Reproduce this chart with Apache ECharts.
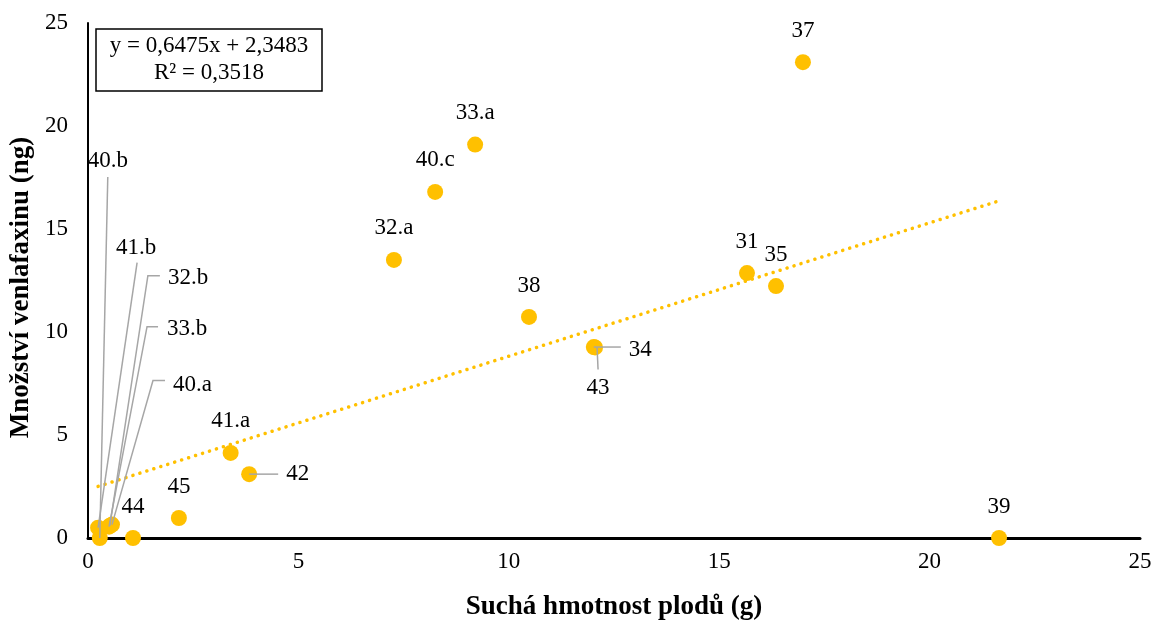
<!DOCTYPE html>
<html>
<head>
<meta charset="utf-8">
<script src="https://cdn.jsdelivr.net/npm/echarts@6/dist/echarts.min.js"></script>
<style>
  html, body { margin: 0; padding: 0; background: #fff; }
  #chart { width: 1154px; height: 620px; }
</style>
</head>
<body>
<div id="chart"></div>
<script>
// vzorky (popisky bodů)
const names = ['37', '33.a', '40.c', '32.a', '38', '31', '35', '34', '43', '41.a', '42', '45', '39', '44', '40.b', '41.b', '32.b', '33.b', '40.a'];
// suchá hmotnost plodů (g)
const xValues = [16.99, 9.2, 8.25, 7.27, 10.48, 15.66, 16.35, 12.02, 12.05, 3.39, 3.83, 2.16, 21.65, 1.07, 0.28, 0.24, 0.52, 0.50, 0.57];
// množství venlafaxinu (ng)
const yValues = [23.1, 19.1, 16.8, 13.5, 10.73, 12.86, 12.23, 9.27, 9.25, 4.13, 3.1, 0.97, 0.0, 0.0, 0.0, 0.5, 0.6, 0.55, 0.65];
// lineární trend y = a*x + b
const trendCoef = [0.6475, 2.3483];
const trendText = ['y = 0,6475x + 2,3483', 'R² = 0,3518'];
const axisMax = 25;
const axisStep = 5;

const FONT = "'Liberation Serif', 'Times New Roman', serif";
const GOLD = '#FFC000';

// odsazené popisky s vodicí čarou (posuny v px vůči bodu)
const leaderLayout = {
  '42':   { line: [[0, 0], [29, 0]], text: [37, 0], align: 'left' },
  '34':   { line: [[0, 0], [27, 0]], text: [35, 3], align: 'left' },
  '43':   { line: [[2, 0], [3, 22]], text: [3, 41], align: 'center' },
  '40.b': { line: [[0, 0], [8, -361]], text: [8, -377], align: 'center' },
  '41.b': { line: [[0, 0], [39, -265]], text: [38, -280], align: 'center' },
  '32.b': { line: [[0, 0], [38, -250], [50, -250]], text: [58, -248], align: 'left' },
  '33.b': { line: [[0, 0], [38, -200], [49, -200]], text: [58, -198], align: 'left' },
  '40.a': { line: [[0, 0], [41, -144], [53, -144]], text: [61, -140], align: 'left' }
};

const points = names.map((n, i) => ({
  name: n,
  value: [xValues[i], yValues[i]],
  label: { show: !leaderLayout[n] }
}));

const leaderData = names
  .map((n, i) => [xValues[i], yValues[i], i])
  .filter(d => leaderLayout[names[d[2]]]);

const xMin = Math.min(...xValues);
const xMax = Math.max(...xValues);
const trendData = [
  [xMin, trendCoef[0] * xMin + trendCoef[1]],
  [xMax, trendCoef[0] * xMax + trendCoef[1]]
];

const chart = echarts.init(document.getElementById('chart'));

const axisCommon = {
  type: 'value',
  min: 0,
  max: axisMax,
  interval: axisStep,
  splitLine: { show: false },
  axisTick: { show: false },
  nameLocation: 'middle'
};

chart.setOption({
  animation: false,
  backgroundColor: '#fff',
  grid: { left: 88, right: 14, top: 23, bottom: 82, outerBoundsMode: 'none', containLabel: false },
  xAxis: Object.assign({}, axisCommon, {
    name: 'Suchá hmotnost plodů (g)',
    nameGap: 56,
    nameTextStyle: { fontFamily: FONT, fontSize: 27, fontWeight: 'bold', color: '#000' },
    axisLine: { show: true, lineStyle: { color: '#000', width: 3 } },
    axisLabel: { margin: 12, fontFamily: FONT, fontSize: 23, color: '#000' }
  }),
  yAxis: Object.assign({}, axisCommon, {
    name: 'Množství venlafaxinu (ng)',
    nameGap: 45,
    nameTextStyle: { fontFamily: FONT, fontSize: 27, fontWeight: 'bold', color: '#000', padding: [0, 14, 0, 0] },
    axisLine: { show: true, lineStyle: { color: '#000', width: 2 } },
    axisLabel: { margin: 20, fontFamily: FONT, fontSize: 23, color: '#000' }
  }),
  graphic: [
    {
      type: 'rect', x: 96, y: 29, z: 10,
      shape: { width: 226, height: 62 },
      style: { fill: '#fff', stroke: '#000', lineWidth: 1.5 }
    },
    {
      type: 'text', x: 209, y: 46, z: 11,
      style: { text: trendText[0], align: 'center', verticalAlign: 'middle', font: '23px ' + FONT, fill: '#000' }
    },
    {
      type: 'text', x: 209, y: 73, z: 11,
      style: { text: trendText[1], align: 'center', verticalAlign: 'middle', font: '23px ' + FONT, fill: '#000' }
    }
  ],
  series: [
    {
      type: 'line',
      data: trendData,
      symbol: 'none',
      z: 1,
      lineStyle: { color: GOLD, width: 3.5, type: [0.1, 7.2], cap: 'round' }
    },
    {
      type: 'scatter',
      data: points,
      symbolSize: 16,
      z: 2,
      itemStyle: { color: GOLD, opacity: 1 },
      label: {
        position: 'top',
        distance: 12,
        formatter: '{b}',
        fontFamily: FONT,
        fontSize: 23,
        color: '#000'
      }
    },
    {
      type: 'custom',
      data: leaderData,
      z: 3,
      renderItem: function (params, api) {
        const p = api.coord([api.value(0), api.value(1)]);
        const lay = leaderLayout[names[api.value(2)]];
        return {
          type: 'group',
          children: [
            {
              type: 'polyline',
              shape: { points: lay.line.map(o => [p[0] + o[0], p[1] + o[1]]) },
              style: { stroke: '#A6A6A6', lineWidth: 1.5, fill: null }
            },
            {
              type: 'text',
              x: p[0] + lay.text[0],
              y: p[1] + lay.text[1],
              style: {
                text: names[api.value(2)],
                align: lay.align,
                verticalAlign: 'middle',
                font: '23px ' + FONT,
                fill: '#000'
              }
            }
          ]
        };
      }
    }
  ]
});
</script>
</body>
</html>
